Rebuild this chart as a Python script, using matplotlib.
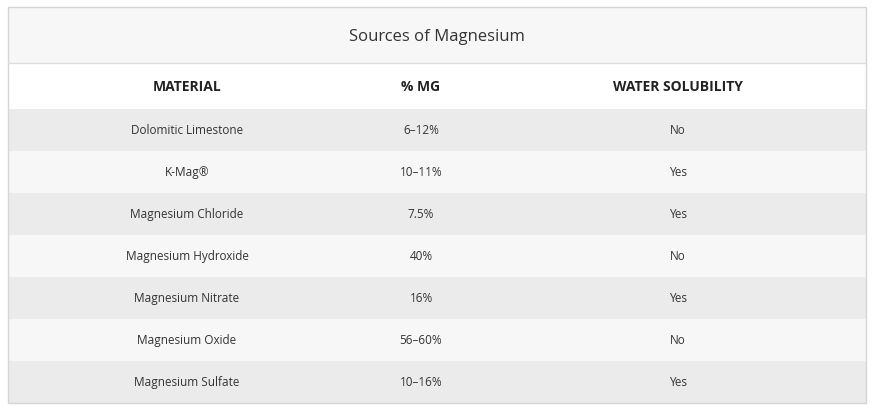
import matplotlib.pyplot as plt
from matplotlib.patches import Rectangle

plt.rcParams['font.family'] = 'Open Sans'

title = "Sources of Magnesium"
headers = ["MATERIAL", "% MG", "WATER SOLUBILITY"]
materials = ["Dolomitic Limestone", "K-Mag®", "Magnesium Chloride", "Magnesium Hydroxide",
             "Magnesium Nitrate", "Magnesium Oxide", "Magnesium Sulfate"]
mg_pct = ["6–12%", "10–11%", "7.5%", "40%", "16%", "56–60%", "10–16%"]
solubility = ["No", "Yes", "Yes", "No", "Yes", "No", "Yes"]

W, H = 875, 414
fig = plt.figure(figsize=(W / 100, H / 100), dpi=100)
ax = fig.add_axes([0, 0, 1, 1])
ax.set_xlim(0, W)
ax.set_ylim(H, 0)
ax.axis('off')

left, right, top = 8, 866, 8
col_x = [187, 421, 678]
row_h = 42

# title band
ax.add_patch(Rectangle((left, top), right - left, 56, fc='#f7f7f7', ec='none'))
ax.text((left + right) / 2, 37, title, ha='center', va='center', fontsize=12, color='#333333')
ax.plot([left, right], [64, 64], color='#dddddd', lw=1)

# header
ax.add_patch(Rectangle((left, 64), right - left, 46, fc='white', ec='none'))
for x, h in zip(col_x, headers):
    ax.text(x, 87, h, ha='center', va='center', fontsize=10, fontweight='bold', color='#222222')

y = 110
for i, (m, p, s) in enumerate(zip(materials, mg_pct, solubility)):
    ax.add_patch(Rectangle((left, y), right - left, row_h,
                           fc='#ebebeb' if i % 2 == 0 else '#f7f7f7', ec='none'))
    for x, t in zip(col_x, (m, p, s)):
        ax.text(x, y + row_h / 2, t, ha='center', va='center', fontsize=8.5, color='#333333')
    y += row_h

ax.add_patch(Rectangle((left, top), right - left, y - top, fc='none', ec='#d5d5d5', lw=1))

fig.savefig('out.png', dpi=100)
